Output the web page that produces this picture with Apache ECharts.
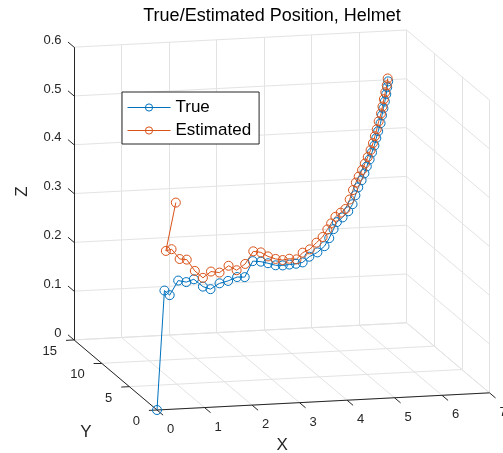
<!DOCTYPE html>
<html>
<head>
<meta charset="utf-8">
<script src="https://cdn.jsdelivr.net/npm/echarts@6/dist/echarts.min.js"></script>
<style>html,body{margin:0;padding:0;background:#fff}#chart{width:503px;height:453px}</style>
</head>
<body>
<div id="chart"></div>
<script>
// ---------- data (3-D positions) ----------
const titleText = 'True/Estimated Position, Helmet';
const seriesNames = ['True', 'Estimated'];
const axisNames = ['X', 'Y', 'Z'];

const trueX = [0, 1.67, 1.78, 1.96, 2.13, 2.29, 2.48, 2.64, 2.83, 3.01, 3.20, 3.36, 3.53, 3.70, 3.85, 4.01, 4.16, 4.30, 4.44, 4.58, 4.72, 4.89, 5.04, 5.14, 5.23, 5.30, 5.42, 5.54, 5.63, 5.69, 5.75, 5.82, 5.88, 5.93, 5.99, 6.04, 6.09, 6.13, 6.17, 6.22, 6.25, 6.28, 6.31, 6.34, 6.36, 6.38];
const trueY = [0, 13, 13, 13, 13, 13, 13, 13, 13, 13, 13, 13, 13, 13, 13, 13, 13, 13, 13, 13, 13, 13, 13, 13, 13, 13, 13, 13, 13, 13, 13, 13, 13, 13, 13, 13, 13, 13, 13, 13, 13, 13, 13, 13, 13, 13];
const trueZ = [0, 0.112, 0.102, 0.131, 0.127, 0.132, 0.116, 0.110, 0.121, 0.125, 0.132, 0.131, 0.163, 0.161, 0.157, 0.152, 0.151, 0.152, 0.153, 0.155, 0.166, 0.174, 0.186, 0.202, 0.220, 0.234, 0.243, 0.255, 0.269, 0.287, 0.303, 0.317, 0.331, 0.345, 0.359, 0.373, 0.387, 0.402, 0.416, 0.432, 0.448, 0.462, 0.476, 0.491, 0.505, 0.517];

const estX = [1.91, 1.70, 1.82, 1.99, 2.14, 2.31, 2.48, 2.65, 2.83, 3.02, 3.19, 3.37, 3.54, 3.70, 3.85, 4.01, 4.16, 4.30, 4.45, 4.58, 4.73, 4.87, 5.00, 5.10, 5.18, 5.27, 5.38, 5.48, 5.57, 5.64, 5.70, 5.76, 5.83, 5.89, 5.95, 6.01, 6.06, 6.10, 6.14, 6.18, 6.23, 6.26, 6.29, 6.32, 6.35, 6.37];
const estY = [13, 13, 13, 13, 13, 13, 13, 13, 13, 13, 13, 13, 13, 13, 13, 13, 13, 13, 13, 13, 13, 13, 13, 13, 13, 13, 13, 13, 13, 13, 13, 13, 13, 13, 13, 13, 13, 13, 13, 13, 13, 13, 13, 13, 13, 13];
const estZ = [0.291, 0.193, 0.196, 0.175, 0.173, 0.149, 0.134, 0.146, 0.143, 0.156, 0.146, 0.158, 0.183, 0.180, 0.171, 0.165, 0.162, 0.164, 0.162, 0.175, 0.181, 0.194, 0.205, 0.220, 0.232, 0.245, 0.253, 0.260, 0.279, 0.298, 0.313, 0.325, 0.338, 0.351, 0.364, 0.378, 0.392, 0.406, 0.420, 0.436, 0.452, 0.466, 0.481, 0.495, 0.509, 0.523];

const xTicks = [0, 1, 2, 3, 4, 5, 6, 7];
const yTicks = [0, 5, 10, 15];
const zTicks = [0, 0.1, 0.2, 0.3, 0.4, 0.5, 0.6];
const xTickLabels = ['0', '1', '2', '3', '4', '5', '6', '7'];
const yTickLabels = ['0', '5', '10', '15'];
const zTickLabels = ['0', '0.1', '0.2', '0.3', '0.4', '0.5', '0.6'];

// ---------- view (orthographic projection of the 3-D box) ----------
const VIEW = { ox: 157, oy: 410, ex: [47.5, -2.45], ey: [-5.53, -4.67], ez: [0, -488] };
function proj(x, y, z) {
  return [VIEW.ox + x * VIEW.ex[0] + y * VIEW.ey[0] + z * VIEW.ez[0],
          VIEW.oy + x * VIEW.ex[1] + y * VIEW.ey[1] + z * VIEW.ez[1]];
}
const X0 = xTicks[0], X1 = xTicks[xTicks.length - 1];
const Y0 = yTicks[0], Y1 = yTicks[yTicks.length - 1];
const Z0 = zTicks[0], Z1 = zTicks[zTicks.length - 1];

const FONT = "'Liberation Sans', Arial, sans-serif";
const AX_COLOR = '#262626';
const GRID_COLOR = '#e3e3e3';
const C_TRUE = '#0072BD';
const C_EST = '#D95319';

function seg(a, b) { return { coords: [proj(a[0], a[1], a[2]), proj(b[0], b[1], b[2])] }; }

// grid lines on the three back planes
const gridSegs = [];
xTicks.forEach(x => { gridSegs.push(seg([x, Y1, Z0], [x, Y1, Z1])); gridSegs.push(seg([x, Y0, Z0], [x, Y1, Z0])); });
zTicks.forEach(z => { gridSegs.push(seg([X0, Y1, z], [X1, Y1, z])); gridSegs.push(seg([X1, Y0, z], [X1, Y1, z])); });
yTicks.forEach(y => { gridSegs.push(seg([X1, y, Z0], [X1, y, Z1])); gridSegs.push(seg([X0, y, Z0], [X1, y, Z0])); });

// axis lines and tick marks
const axisSegs = [
  seg([X0, Y0, Z0], [X1, Y0, Z0]),
  seg([X0, Y0, Z0], [X0, Y1, Z0]),
  seg([X0, Y1, Z0], [X0, Y1, Z1])
];
const TX = 1.1, TY = 0.17, TZ = 1.1;
xTicks.forEach(x => axisSegs.push(seg([x, Y0, Z0], [x, Y0 - TX, Z0])));
yTicks.forEach(y => axisSegs.push(seg([X0, y, Z0], [X0 - TY, y, Z0])));
zTicks.forEach(z => axisSegs.push(seg([X0, Y1, z], [X0, Y1 + TZ, z])));

// text items
const texts = [];
xTicks.forEach((x, i) => { const p = proj(x, Y0, Z0); texts.push({ p: [p[0] + 13.5, p[1] + 19.5], t: xTickLabels[i], a: 'center', s: 13 }); });
yTicks.forEach((y, i) => { const p = proj(X0, y, Z0); texts.push({ p: [p[0] - 17, p[1] + 11.5], t: yTickLabels[i], a: 'right', s: 13 }); });
zTicks.forEach((z, i) => { const p = proj(X0, Y1, z); texts.push({ p: [p[0] - 12.5, p[1] - 7], t: zTickLabels[i], a: 'right', s: 13 }); });
(function () {
  const px = proj((X0 + X1) / 2, Y0, Z0); texts.push({ p: [px[0] - 41, px[1] + 43.5], t: axisNames[0], a: 'center', s: 17 });
  const py = proj(X0, (Y0 + Y1) / 2, Z0); texts.push({ p: [py[0] - 29.5, py[1] + 57.5], t: axisNames[1], a: 'center', s: 17 });
  const pz = proj(X0, Y1, (Z0 + Z1) / 2); texts.push({ p: [pz[0] - 52, pz[1] - 2], t: axisNames[2], a: 'center', s: 17, r: Math.PI / 2 });
})();

const truePts = trueX.map((x, i) => proj(x, trueY[i], trueZ[i]));
const estPts = estX.map((x, i) => proj(x, estY[i], estZ[i]));

const chart = echarts.init(document.getElementById('chart'), null, { renderer: 'canvas' });
chart.setOption({
  animation: false,
  backgroundColor: '#fff',
  title: {
    text: titleText, left: 272, top: 7, textAlign: 'center', padding: 0,
    textStyle: { fontSize: 18, fontWeight: 'normal', color: '#000', fontFamily: FONT }
  },
  legend: {
    data: seriesNames, orient: 'vertical', left: 122, top: 92,
    backgroundColor: '#fff', borderColor: AX_COLOR, borderWidth: 1, borderRadius: 0,
    padding: [7, 8, 5, 5], itemGap: 6, itemWidth: 43, itemHeight: 9,
    lineStyle: { width: 1 },
    itemStyle: { borderWidth: 1 },
    textStyle: { fontSize: 17, color: '#000', fontFamily: FONT }
  },
  grid: { left: 0, right: 0, top: 0, bottom: 0 },
  xAxis: { type: 'value', min: 0, max: 503, show: false },
  yAxis: { type: 'value', min: 0, max: 453, inverse: true, show: false },
  series: [
    { type: 'lines', coordinateSystem: 'cartesian2d', silent: true, z: 1,
      lineStyle: { color: GRID_COLOR, width: 1, opacity: 1 }, data: gridSegs },
    { type: 'lines', coordinateSystem: 'cartesian2d', silent: true, z: 2,
      lineStyle: { color: AX_COLOR, width: 1, opacity: 1 }, data: axisSegs },
    { type: 'custom', coordinateSystem: 'cartesian2d', silent: true, z: 2, clip: false,
      data: texts.map(d => d.p),
      renderItem: function (params, api) {
        const d = texts[params.dataIndex];
        const c = api.coord([api.value(0), api.value(1)]);
        return { type: 'text', x: c[0], y: c[1], rotation: d.r || 0,
          style: { text: d.t, fill: AX_COLOR, fontSize: d.s, fontFamily: FONT, align: d.a, verticalAlign: 'middle' } };
      } },
    { name: seriesNames[0], type: 'line', z: 3, data: truePts, symbol: 'circle', symbolSize: 9,
      showSymbol: true, showAllSymbol: true, clip: false,
      lineStyle: { color: C_TRUE, width: 1 },
      itemStyle: { color: 'rgba(255,255,255,0)', borderColor: C_TRUE, borderWidth: 1 } },
    { name: seriesNames[1], type: 'line', z: 3, data: estPts, symbol: 'circle', symbolSize: 9,
      showSymbol: true, showAllSymbol: true, clip: false,
      lineStyle: { color: C_EST, width: 1 },
      itemStyle: { color: 'rgba(255,255,255,0)', borderColor: C_EST, borderWidth: 1 } }
  ]
});
</script>
</body>
</html>
